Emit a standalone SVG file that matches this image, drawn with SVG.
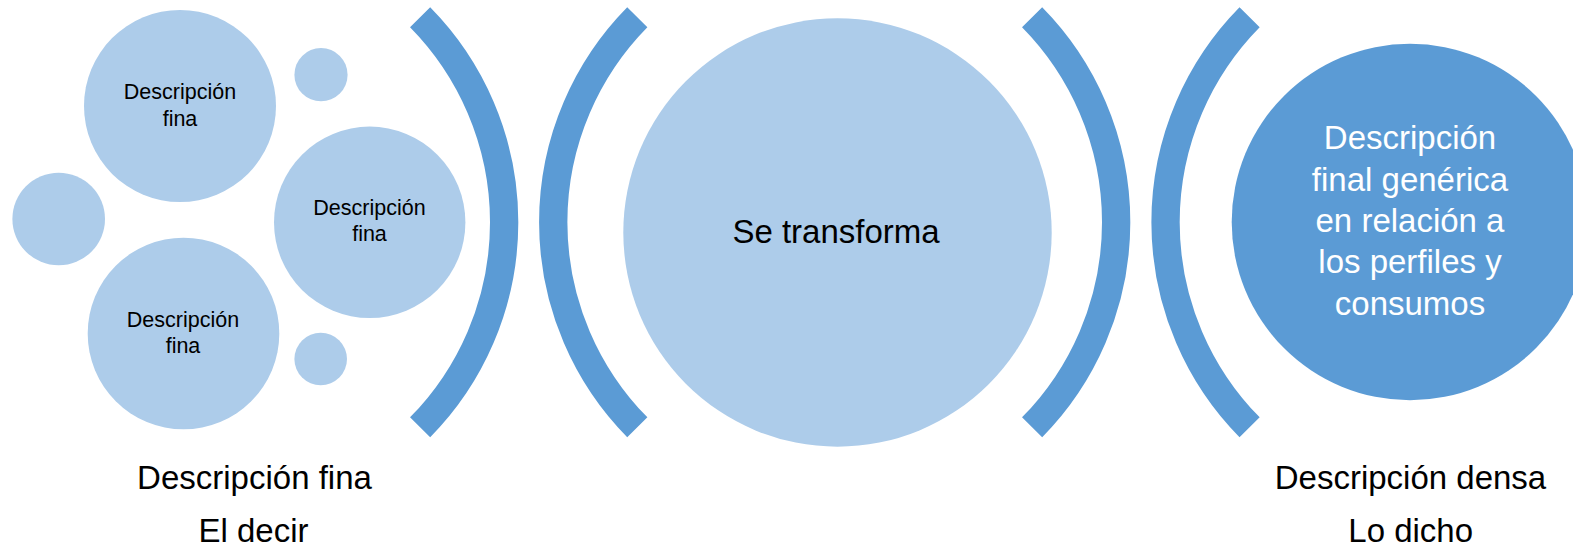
<svg xmlns="http://www.w3.org/2000/svg" width="1573" height="554" viewBox="0 0 1573 554">
<style>
.light{fill:#ADCCEA}
.dark{fill:#5B9BD5}
.arc{fill:none;stroke:#5B9BD5;stroke-width:28.3;stroke-linecap:butt}
text{font-family:"Liberation Sans",Arial,sans-serif;text-anchor:middle;fill:#000}
.sm{font-size:21.5px}
.lg{font-size:33px}
.wh{fill:#FFFFFF}
</style>
<rect width="1573" height="554" fill="#FFFFFF"/>
<g id="cluster">
  <g id="c-top"><circle class="light" cx="180" cy="106" r="96"/>
    <text class="sm" x="180" y="99">Descripción</text><text class="sm" x="180" y="125.5">fina</text></g>
  <g id="c-small-top"><circle class="light" cx="321" cy="74.7" r="26.6"/></g>
  <g id="c-left"><circle class="light" cx="58.7" cy="219" r="46.3"/></g>
  <g id="c-mid"><circle class="light" cx="369.7" cy="222.3" r="95.7"/>
    <text class="sm" x="369.5" y="215">Descripción</text><text class="sm" x="369.5" y="241">fina</text></g>
  <g id="c-bottom"><circle class="light" cx="183.5" cy="333.5" r="95.8"/>
    <text class="sm" x="183" y="326.7">Descripción</text><text class="sm" x="183" y="352.7">fina</text></g>
  <g id="c-small-bottom"><circle class="light" cx="320.7" cy="359" r="26.3"/></g>
</g>
<g id="center-node"><circle class="light" cx="837.5" cy="232.5" r="214.2"/>
  <text class="lg" x="836" y="243.3">Se transforma</text></g>
<g id="final-node"><circle class="dark" cx="1410" cy="222" r="178.3"/>
  <text class="lg wh" x="1410" y="149.3">Descripción</text>
  <text class="lg wh" x="1410" y="190.5">final genérica</text>
  <text class="lg wh" x="1410" y="231.7">en relación a</text>
  <text class="lg wh" x="1410" y="273.3">los perfiles y</text>
  <text class="lg wh" x="1410" y="315">consumos</text></g>
<g id="connectors">
  <path class="arc" d="M420.1 17.3 A292 292 0 0 1 420.1 427.3"/>
  <path class="arc" d="M637.3 17.3 A292 292 0 0 0 637.3 427.3"/>
  <path class="arc" d="M1032.1 17.3 A292 292 0 0 1 1032.1 427.3"/>
  <path class="arc" d="M1249.6 17.3 A292 292 0 0 0 1249.6 427.3"/>
</g>
<g id="labels">
  <text class="lg" x="254.5" y="489.3">Descripción fina</text>
  <text class="lg" x="253.5" y="541.7">El decir</text>
  <text class="lg" x="1410.5" y="489.3">Descripción densa</text>
  <text class="lg" x="1410.7" y="541.7">Lo dicho</text>
</g>
</svg>
